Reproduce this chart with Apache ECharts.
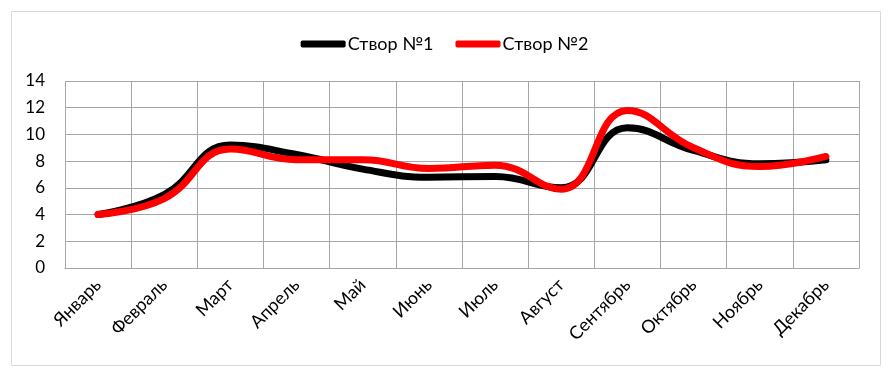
<!DOCTYPE html>
<html><head><meta charset="utf-8">
<script src="https://cdn.jsdelivr.net/npm/echarts@6/dist/echarts.min.js"></script>
<style>html,body{margin:0;padding:0;background:#fff}#c{width:889px;height:374px}</style>
</head><body><div id="c"></div>
<script>
var categories = ['Январь','Февраль','Март','Апрель','Май','Июнь','Июль','Август','Сентябрь','Октябрь','Ноябрь','Декабрь'];
var stvor1 = [4.0, 5.5, 9.2, 8.5, 7.4, 6.8, 6.85, 6.0, 10.5, 8.8, 7.8, 8.1];
var stvor2 = [4.0, 5.2, 8.9, 8.1, 8.1, 7.45, 7.7, 5.9, 11.8, 9.0, 7.6, 8.35];
var seriesNames = ['Створ №1', 'Створ №2'];
var yTicks = [0, 14, 2];

var font = 'Lato';
var chart = echarts.init(document.getElementById('c'), null, {renderer: 'canvas'});
chart.setOption({
  animation: false,
  backgroundColor: '#fff',
  graphic: [{
    type: 'rect', shape: {x: 11.5, y: 11.5, width: 869, height: 354},
    style: {fill: 'none', stroke: '#d9d9d9', lineWidth: 1}, silent: true, z: -1
  }],
  legend: {
    left: 'center', top: 30, itemWidth: 45, itemHeight: 7, itemGap: 22,
    icon: 'roundRect',
    textStyle: {fontFamily: font, fontSize: 18, color: '#000', padding: [0, 0, 0, -3]},
    data: seriesNames
  },
  grid: {left: 65, right: 30, top: 81, bottom: 106, containLabel: false},
  xAxis: {
    type: 'category', data: categories, boundaryGap: true,
    axisLine: {show: true, lineStyle: {color: '#a6a6a6', width: 1}},
    axisTick: {show: false},
    splitLine: {show: true, lineStyle: {color: '#a6a6a6', width: 1}},
    axisLabel: {rotate: 45, interval: 0, margin: 14, fontFamily: font, fontSize: 18, color: '#000'}
  },
  yAxis: {
    type: 'value', min: yTicks[0], max: yTicks[1], interval: yTicks[2],
    axisLine: {show: false}, axisTick: {show: false},
    splitLine: {show: true, lineStyle: {color: '#a6a6a6', width: 1}},
    axisLabel: {margin: 20, fontFamily: font, fontSize: 17, color: '#000'}
  },
  series: [
    {name: seriesNames[0], type: 'line', data: stvor1, smooth: 0.45, symbol: 'none',
     lineStyle: {color: '#000', width: 7, cap: 'round'}, itemStyle: {color: '#000'}},
    {name: seriesNames[1], type: 'line', data: stvor2, smooth: 0.45, symbol: 'none',
     lineStyle: {color: '#ff0000', width: 7, cap: 'round'}, itemStyle: {color: '#ff0000'}}
  ]
});
</script></body></html>
